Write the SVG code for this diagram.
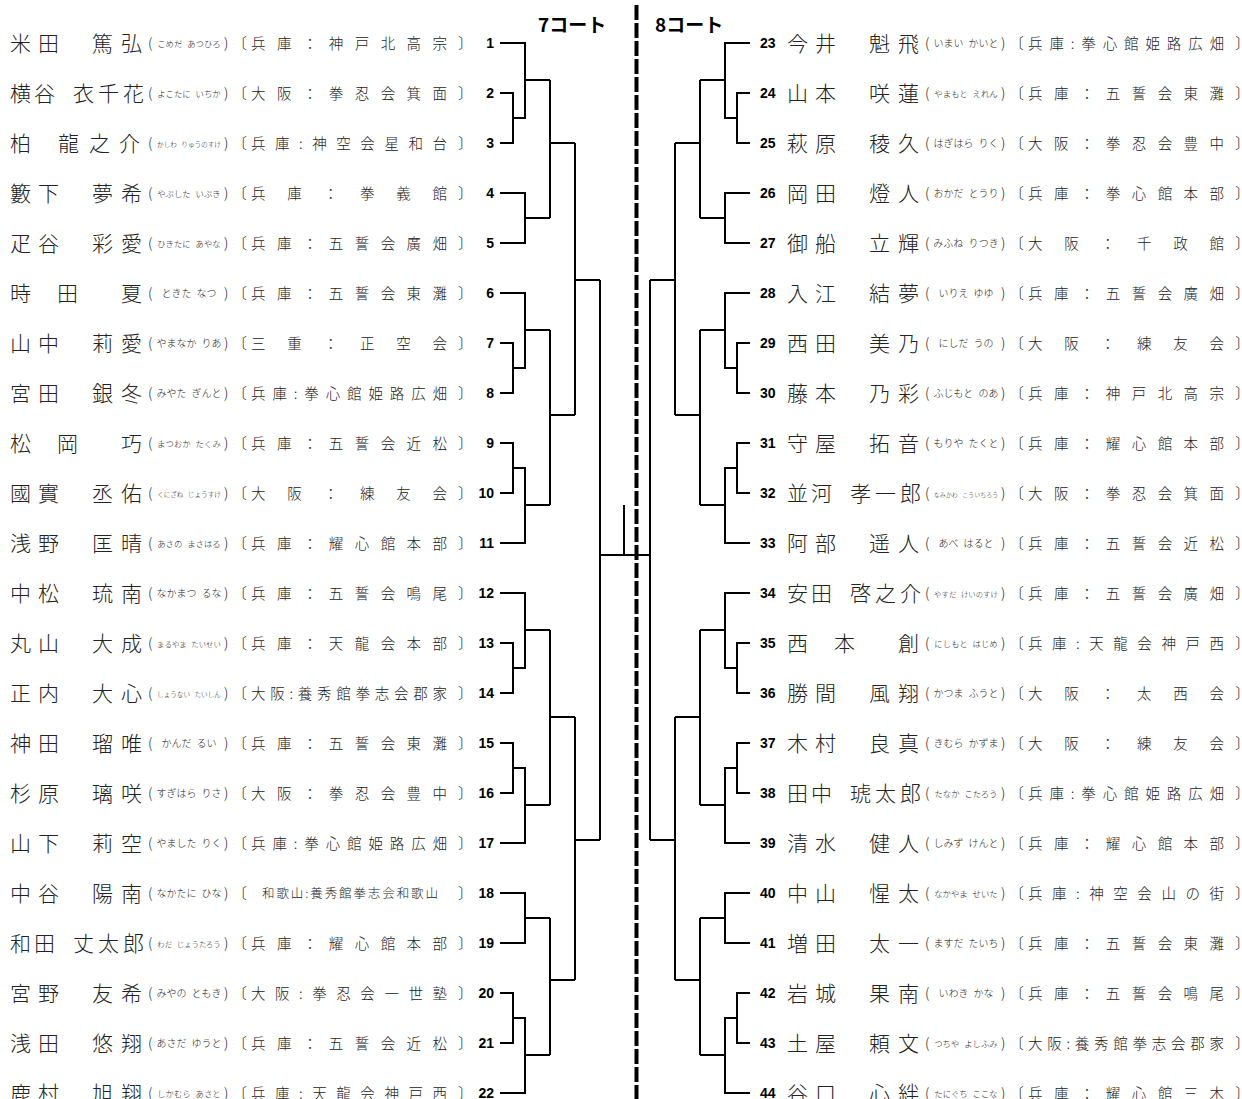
<svg xmlns="http://www.w3.org/2000/svg" width="1242" height="1099" viewBox="0 0 1242 1099">
<style>
text{font-family:"Noto Sans CJK JP","Noto Sans CJK SC",sans-serif;fill:#222}
.nm{font-size:21px;font-weight:300}
.fu{font-size:9px;text-anchor:middle;font-weight:300;word-spacing:3px}
.f10{font-size:10px}.f86{font-size:8.4px}.f76{font-size:7.4px}.f68{font-size:6.6px}.f62{font-size:6px}
.pr{font-size:14px;font-weight:300}
.br{font-size:15px;font-weight:300}
.cl{font-size:14.5px;font-weight:300}
.cl2{font-size:12.5px;font-weight:300}
.no{font-family:"Liberation Sans",Arial,sans-serif;font-weight:bold;font-size:14px;fill:#000}
.nl{text-anchor:end}
.ttl{font-weight:bold;font-size:19px;fill:#000}
.ln{fill:none;stroke:#000;stroke-width:2}
.cut{fill:none;stroke:#000;stroke-width:4;stroke-dasharray:15 3}
</style>
<defs>
<path id="half" class="ln" d="M500 43H525V118H513M500 93H513V143H500M525 80H550M500 193H525V243H500M525 218H550M550 80V218M550 143H575M500 293H525V368H513M500 343H513V393H500M525 330H550M500 443H513V493H500M513 468H525V543H500M525 505H550M550 330V505M550 415H575M575 143V415M575 280H600M500 593H525V668H513M500 643H513V693H500M525 630H550M500 743H513V793H500M513 768H525V843H500M525 805H550M550 630V805M550 717H575M500 893H525V943H500M525 918H550M500 993H513V1043H500M513 1018H525V1093H500M525 1055H550M550 918V1055M550 980H575M575 717V980M575 840H600M600 280V840"/>
</defs>
<g id="connectors">
<use href="#half"/>
<use href="#half" transform="matrix(-1 0 0 1 1250 0)"/>
<path class="ln" d="M600 555H650M624 505V555"/>
<path class="cut" d="M636.5 5V1099"/>
</g>
<g id="titles">
<text class="ttl" x="538" y="32">7コート</text>
<text class="ttl" x="655" y="32">8コート</text>
</g>
<g id="p1" transform="translate(0,43)"><text class="no nl" x="494" y="5">1</text><text class="nm" x="10 38 92 121" y="8">米田篤弘</text><text class="pr" x="148" y="5">(</text><text class="fu f86" x="189" y="4">こめだ あつひろ</text><text class="pr" x="224" y="5">)</text><text class="br" x="232" y="6">〔</text><text class="cl" x="251" y="6" textLength="196">兵庫：神戸北高宗</text><text class="br" x="458" y="6">〕</text></g>
<g id="p2" transform="translate(0,93)"><text class="no nl" x="494" y="5">2</text><text class="nm" x="10 34 73 98 123" y="8">横谷衣千花</text><text class="pr" x="148" y="5">(</text><text class="fu f86" x="189" y="4">よこたに いちか</text><text class="pr" x="224" y="5">)</text><text class="br" x="232" y="6">〔</text><text class="cl" x="251" y="6" textLength="196">大阪：拳忍会箕面</text><text class="br" x="458" y="6">〕</text></g>
<g id="p3" transform="translate(0,143)"><text class="no nl" x="494" y="5">3</text><text class="nm" x="10 58 89 119" y="8">柏龍之介</text><text class="pr" x="148" y="5">(</text><text class="fu f68" x="189" y="4">かしわ りゅうのすけ</text><text class="pr" x="224" y="5">)</text><text class="br" x="232" y="6">〔</text><text class="cl" x="251" y="6" textLength="196">兵庫:神空会星和台</text><text class="br" x="458" y="6">〕</text></g>
<g id="p4" transform="translate(0,193)"><text class="no nl" x="494" y="5">4</text><text class="nm" x="10 38 92 121" y="8">籔下夢希</text><text class="pr" x="148" y="5">(</text><text class="fu f86" x="189" y="4">やぶした いぶき</text><text class="pr" x="224" y="5">)</text><text class="br" x="232" y="6">〔</text><text class="cl" x="251" y="6" textLength="196">兵庫：拳義館</text><text class="br" x="458" y="6">〕</text></g>
<g id="p5" transform="translate(0,243)"><text class="no nl" x="494" y="5">5</text><text class="nm" x="10 38 92 121" y="8">疋谷彩愛</text><text class="pr" x="148" y="5">(</text><text class="fu f86" x="189" y="4">ひきたに あやな</text><text class="pr" x="224" y="5">)</text><text class="br" x="232" y="6">〔</text><text class="cl" x="251" y="6" textLength="196">兵庫：五誓会廣畑</text><text class="br" x="458" y="6">〕</text></g>
<g id="p6" transform="translate(0,293)"><text class="no nl" x="494" y="5">6</text><text class="nm" x="10 57 121" y="8">時田夏</text><text class="pr" x="148" y="5">(</text><text class="fu f10" x="189" y="4">ときた なつ</text><text class="pr" x="224" y="5">)</text><text class="br" x="232" y="6">〔</text><text class="cl" x="251" y="6" textLength="196">兵庫：五誓会東灘</text><text class="br" x="458" y="6">〕</text></g>
<g id="p7" transform="translate(0,343)"><text class="no nl" x="494" y="5">7</text><text class="nm" x="10 38 92 121" y="8">山中莉愛</text><text class="pr" x="148" y="5">(</text><text class="fu f10" x="189" y="4">やまなか りあ</text><text class="pr" x="224" y="5">)</text><text class="br" x="232" y="6">〔</text><text class="cl" x="251" y="6" textLength="196">三重：正空会</text><text class="br" x="458" y="6">〕</text></g>
<g id="p8" transform="translate(0,393)"><text class="no nl" x="494" y="5">8</text><text class="nm" x="10 38 92 121" y="8">宮田銀冬</text><text class="pr" x="148" y="5">(</text><text class="fu f10" x="189" y="4">みやた ぎんと</text><text class="pr" x="224" y="5">)</text><text class="br" x="232" y="6">〔</text><text class="cl" x="251" y="6" textLength="196">兵庫:拳心館姫路広畑</text><text class="br" x="458" y="6">〕</text></g>
<g id="p9" transform="translate(0,443)"><text class="no nl" x="494" y="5">9</text><text class="nm" x="10 57 121" y="8">松岡巧</text><text class="pr" x="148" y="5">(</text><text class="fu f86" x="189" y="4">まつおか たくみ</text><text class="pr" x="224" y="5">)</text><text class="br" x="232" y="6">〔</text><text class="cl" x="251" y="6" textLength="196">兵庫：五誓会近松</text><text class="br" x="458" y="6">〕</text></g>
<g id="p10" transform="translate(0,493)"><text class="no nl" x="494" y="5">10</text><text class="nm" x="10 38 92 121" y="8">國實丞佑</text><text class="pr" x="148" y="5">(</text><text class="fu f68" x="189" y="4">くにざね じょうすけ</text><text class="pr" x="224" y="5">)</text><text class="br" x="232" y="6">〔</text><text class="cl" x="251" y="6" textLength="196">大阪：練友会</text><text class="br" x="458" y="6">〕</text></g>
<g id="p11" transform="translate(0,543)"><text class="no nl" x="494" y="5">11</text><text class="nm" x="10 38 92 121" y="8">浅野匡晴</text><text class="pr" x="148" y="5">(</text><text class="fu f86" x="189" y="4">あさの まさはる</text><text class="pr" x="224" y="5">)</text><text class="br" x="232" y="6">〔</text><text class="cl" x="251" y="6" textLength="196">兵庫：耀心館本部</text><text class="br" x="458" y="6">〕</text></g>
<g id="p12" transform="translate(0,593)"><text class="no nl" x="494" y="5">12</text><text class="nm" x="10 38 92 121" y="8">中松琉南</text><text class="pr" x="148" y="5">(</text><text class="fu f10" x="189" y="4">なかまつ るな</text><text class="pr" x="224" y="5">)</text><text class="br" x="232" y="6">〔</text><text class="cl" x="251" y="6" textLength="196">兵庫：五誓会鳴尾</text><text class="br" x="458" y="6">〕</text></g>
<g id="p13" transform="translate(0,643)"><text class="no nl" x="494" y="5">13</text><text class="nm" x="10 38 92 121" y="8">丸山大成</text><text class="pr" x="148" y="5">(</text><text class="fu f76" x="189" y="4">まるやま たいせい</text><text class="pr" x="224" y="5">)</text><text class="br" x="232" y="6">〔</text><text class="cl" x="251" y="6" textLength="196">兵庫：天龍会本部</text><text class="br" x="458" y="6">〕</text></g>
<g id="p14" transform="translate(0,693)"><text class="no nl" x="494" y="5">14</text><text class="nm" x="10 38 92 121" y="8">正内大心</text><text class="pr" x="148" y="5">(</text><text class="fu f68" x="189" y="4">しょうない たいしん</text><text class="pr" x="224" y="5">)</text><text class="br" x="232" y="6">〔</text><text class="cl" x="251" y="6" textLength="196">大阪:養秀館拳志会郡家</text><text class="br" x="458" y="6">〕</text></g>
<g id="p15" transform="translate(0,743)"><text class="no nl" x="494" y="5">15</text><text class="nm" x="10 38 92 121" y="8">神田瑠唯</text><text class="pr" x="148" y="5">(</text><text class="fu f10" x="189" y="4">かんだ るい</text><text class="pr" x="224" y="5">)</text><text class="br" x="232" y="6">〔</text><text class="cl" x="251" y="6" textLength="196">兵庫：五誓会東灘</text><text class="br" x="458" y="6">〕</text></g>
<g id="p16" transform="translate(0,793)"><text class="no nl" x="494" y="5">16</text><text class="nm" x="10 38 92 121" y="8">杉原璃咲</text><text class="pr" x="148" y="5">(</text><text class="fu f10" x="189" y="4">すぎはら りさ</text><text class="pr" x="224" y="5">)</text><text class="br" x="232" y="6">〔</text><text class="cl" x="251" y="6" textLength="196">大阪：拳忍会豊中</text><text class="br" x="458" y="6">〕</text></g>
<g id="p17" transform="translate(0,843)"><text class="no nl" x="494" y="5">17</text><text class="nm" x="10 38 92 121" y="8">山下莉空</text><text class="pr" x="148" y="5">(</text><text class="fu f10" x="189" y="4">やました りく</text><text class="pr" x="224" y="5">)</text><text class="br" x="232" y="6">〔</text><text class="cl" x="251" y="6" textLength="196">兵庫:拳心館姫路広畑</text><text class="br" x="458" y="6">〕</text></g>
<g id="p18" transform="translate(0,893)"><text class="no nl" x="494" y="5">18</text><text class="nm" x="10 38 92 121" y="8">中谷陽南</text><text class="pr" x="148" y="5">(</text><text class="fu f10" x="189" y="4">なかたに ひな</text><text class="pr" x="224" y="5">)</text><text class="br" x="232" y="6">〔</text><text class="cl2" x="262" y="5" textLength="176">和歌山:養秀館拳志会和歌山</text><text class="br" x="458" y="6">〕</text></g>
<g id="p19" transform="translate(0,943)"><text class="no nl" x="494" y="5">19</text><text class="nm" x="10 34 73 98 123" y="8">和田丈太郎</text><text class="pr" x="148" y="5">(</text><text class="fu f76" x="189" y="4">わだ じょうたろう</text><text class="pr" x="224" y="5">)</text><text class="br" x="232" y="6">〔</text><text class="cl" x="251" y="6" textLength="196">兵庫：耀心館本部</text><text class="br" x="458" y="6">〕</text></g>
<g id="p20" transform="translate(0,993)"><text class="no nl" x="494" y="5">20</text><text class="nm" x="10 38 92 121" y="8">宮野友希</text><text class="pr" x="148" y="5">(</text><text class="fu f10" x="189" y="4">みやの ともき</text><text class="pr" x="224" y="5">)</text><text class="br" x="232" y="6">〔</text><text class="cl" x="251" y="6" textLength="196">大阪:拳忍会一世塾</text><text class="br" x="458" y="6">〕</text></g>
<g id="p21" transform="translate(0,1043)"><text class="no nl" x="494" y="5">21</text><text class="nm" x="10 38 92 121" y="8">浅田悠翔</text><text class="pr" x="148" y="5">(</text><text class="fu f10" x="189" y="4">あさだ ゆうと</text><text class="pr" x="224" y="5">)</text><text class="br" x="232" y="6">〔</text><text class="cl" x="251" y="6" textLength="196">兵庫：五誓会近松</text><text class="br" x="458" y="6">〕</text></g>
<g id="p22" transform="translate(0,1093)"><text class="no nl" x="494" y="5">22</text><text class="nm" x="10 38 92 121" y="8">鹿村旭翔</text><text class="pr" x="148" y="5">(</text><text class="fu f86" x="189" y="4">しかむら あさと</text><text class="pr" x="224" y="5">)</text><text class="br" x="232" y="6">〔</text><text class="cl" x="251" y="6" textLength="196">兵庫:天龍会神戸西</text><text class="br" x="458" y="6">〕</text></g>
<g id="p23" transform="translate(777,43)"><text class="no" x="-17" y="5">23</text><text class="nm" x="10 38 92 121" y="8">今井魁飛</text><text class="pr" x="148" y="5">(</text><text class="fu f10" x="189" y="4">いまい かいと</text><text class="pr" x="224" y="5">)</text><text class="br" x="232" y="6">〔</text><text class="cl" x="251" y="6" textLength="196">兵庫:拳心館姫路広畑</text><text class="br" x="458" y="6">〕</text></g>
<g id="p24" transform="translate(777,93)"><text class="no" x="-17" y="5">24</text><text class="nm" x="10 38 92 121" y="8">山本咲蓮</text><text class="pr" x="148" y="5">(</text><text class="fu f86" x="189" y="4">やまもと えれん</text><text class="pr" x="224" y="5">)</text><text class="br" x="232" y="6">〔</text><text class="cl" x="251" y="6" textLength="196">兵庫：五誓会東灘</text><text class="br" x="458" y="6">〕</text></g>
<g id="p25" transform="translate(777,143)"><text class="no" x="-17" y="5">25</text><text class="nm" x="10 38 92 121" y="8">萩原稜久</text><text class="pr" x="148" y="5">(</text><text class="fu f10" x="189" y="4">はぎはら りく</text><text class="pr" x="224" y="5">)</text><text class="br" x="232" y="6">〔</text><text class="cl" x="251" y="6" textLength="196">大阪：拳忍会豊中</text><text class="br" x="458" y="6">〕</text></g>
<g id="p26" transform="translate(777,193)"><text class="no" x="-17" y="5">26</text><text class="nm" x="10 38 92 121" y="8">岡田燈人</text><text class="pr" x="148" y="5">(</text><text class="fu f10" x="189" y="4">おかだ とうり</text><text class="pr" x="224" y="5">)</text><text class="br" x="232" y="6">〔</text><text class="cl" x="251" y="6" textLength="196">兵庫：拳心館本部</text><text class="br" x="458" y="6">〕</text></g>
<g id="p27" transform="translate(777,243)"><text class="no" x="-17" y="5">27</text><text class="nm" x="10 38 92 121" y="8">御船立輝</text><text class="pr" x="148" y="5">(</text><text class="fu f10" x="189" y="4">みふね りつき</text><text class="pr" x="224" y="5">)</text><text class="br" x="232" y="6">〔</text><text class="cl" x="251" y="6" textLength="196">大阪：千政館</text><text class="br" x="458" y="6">〕</text></g>
<g id="p28" transform="translate(777,293)"><text class="no" x="-17" y="5">28</text><text class="nm" x="10 38 92 121" y="8">入江結夢</text><text class="pr" x="148" y="5">(</text><text class="fu f10" x="189" y="4">いりえ ゆゆ</text><text class="pr" x="224" y="5">)</text><text class="br" x="232" y="6">〔</text><text class="cl" x="251" y="6" textLength="196">兵庫：五誓会廣畑</text><text class="br" x="458" y="6">〕</text></g>
<g id="p29" transform="translate(777,343)"><text class="no" x="-17" y="5">29</text><text class="nm" x="10 38 92 121" y="8">西田美乃</text><text class="pr" x="148" y="5">(</text><text class="fu f10" x="189" y="4">にしだ うの</text><text class="pr" x="224" y="5">)</text><text class="br" x="232" y="6">〔</text><text class="cl" x="251" y="6" textLength="196">大阪：練友会</text><text class="br" x="458" y="6">〕</text></g>
<g id="p30" transform="translate(777,393)"><text class="no" x="-17" y="5">30</text><text class="nm" x="10 38 92 121" y="8">藤本乃彩</text><text class="pr" x="148" y="5">(</text><text class="fu f10" x="189" y="4">ふじもと のあ</text><text class="pr" x="224" y="5">)</text><text class="br" x="232" y="6">〔</text><text class="cl" x="251" y="6" textLength="196">兵庫：神戸北高宗</text><text class="br" x="458" y="6">〕</text></g>
<g id="p31" transform="translate(777,443)"><text class="no" x="-17" y="5">31</text><text class="nm" x="10 38 92 121" y="8">守屋拓音</text><text class="pr" x="148" y="5">(</text><text class="fu f10" x="189" y="4">もりや たくと</text><text class="pr" x="224" y="5">)</text><text class="br" x="232" y="6">〔</text><text class="cl" x="251" y="6" textLength="196">兵庫：耀心館本部</text><text class="br" x="458" y="6">〕</text></g>
<g id="p32" transform="translate(777,493)"><text class="no" x="-17" y="5">32</text><text class="nm" x="10 34 73 98 123" y="8">並河孝一郎</text><text class="pr" x="148" y="5">(</text><text class="fu f62" x="189" y="4">なみかわ こういちろう</text><text class="pr" x="224" y="5">)</text><text class="br" x="232" y="6">〔</text><text class="cl" x="251" y="6" textLength="196">大阪：拳忍会箕面</text><text class="br" x="458" y="6">〕</text></g>
<g id="p33" transform="translate(777,543)"><text class="no" x="-17" y="5">33</text><text class="nm" x="10 38 92 121" y="8">阿部遥人</text><text class="pr" x="148" y="5">(</text><text class="fu f10" x="189" y="4">あべ はると</text><text class="pr" x="224" y="5">)</text><text class="br" x="232" y="6">〔</text><text class="cl" x="251" y="6" textLength="196">兵庫：五誓会近松</text><text class="br" x="458" y="6">〕</text></g>
<g id="p34" transform="translate(777,593)"><text class="no" x="-17" y="5">34</text><text class="nm" x="10 34 73 98 123" y="8">安田啓之介</text><text class="pr" x="148" y="5">(</text><text class="fu f76" x="189" y="4">やすだ けいのすけ</text><text class="pr" x="224" y="5">)</text><text class="br" x="232" y="6">〔</text><text class="cl" x="251" y="6" textLength="196">兵庫：五誓会廣畑</text><text class="br" x="458" y="6">〕</text></g>
<g id="p35" transform="translate(777,643)"><text class="no" x="-17" y="5">35</text><text class="nm" x="10 57 121" y="8">西本創</text><text class="pr" x="148" y="5">(</text><text class="fu f86" x="189" y="4">にしもと はじめ</text><text class="pr" x="224" y="5">)</text><text class="br" x="232" y="6">〔</text><text class="cl" x="251" y="6" textLength="196">兵庫:天龍会神戸西</text><text class="br" x="458" y="6">〕</text></g>
<g id="p36" transform="translate(777,693)"><text class="no" x="-17" y="5">36</text><text class="nm" x="10 38 92 121" y="8">勝間風翔</text><text class="pr" x="148" y="5">(</text><text class="fu f10" x="189" y="4">かつま ふうと</text><text class="pr" x="224" y="5">)</text><text class="br" x="232" y="6">〔</text><text class="cl" x="251" y="6" textLength="196">大阪：太西会</text><text class="br" x="458" y="6">〕</text></g>
<g id="p37" transform="translate(777,743)"><text class="no" x="-17" y="5">37</text><text class="nm" x="10 38 92 121" y="8">木村良真</text><text class="pr" x="148" y="5">(</text><text class="fu f10" x="189" y="4">きむら かずま</text><text class="pr" x="224" y="5">)</text><text class="br" x="232" y="6">〔</text><text class="cl" x="251" y="6" textLength="196">大阪：練友会</text><text class="br" x="458" y="6">〕</text></g>
<g id="p38" transform="translate(777,793)"><text class="no" x="-17" y="5">38</text><text class="nm" x="10 34 73 98 123" y="8">田中琥太郎</text><text class="pr" x="148" y="5">(</text><text class="fu f86" x="189" y="4">たなか こたろう</text><text class="pr" x="224" y="5">)</text><text class="br" x="232" y="6">〔</text><text class="cl" x="251" y="6" textLength="196">兵庫:拳心館姫路広畑</text><text class="br" x="458" y="6">〕</text></g>
<g id="p39" transform="translate(777,843)"><text class="no" x="-17" y="5">39</text><text class="nm" x="10 38 92 121" y="8">清水健人</text><text class="pr" x="148" y="5">(</text><text class="fu f10" x="189" y="4">しみず けんと</text><text class="pr" x="224" y="5">)</text><text class="br" x="232" y="6">〔</text><text class="cl" x="251" y="6" textLength="196">兵庫：耀心館本部</text><text class="br" x="458" y="6">〕</text></g>
<g id="p40" transform="translate(777,893)"><text class="no" x="-17" y="5">40</text><text class="nm" x="10 38 92 121" y="8">中山惺太</text><text class="pr" x="148" y="5">(</text><text class="fu f86" x="189" y="4">なかやま せいた</text><text class="pr" x="224" y="5">)</text><text class="br" x="232" y="6">〔</text><text class="cl" x="251" y="6" textLength="196">兵庫:神空会山の街</text><text class="br" x="458" y="6">〕</text></g>
<g id="p41" transform="translate(777,943)"><text class="no" x="-17" y="5">41</text><text class="nm" x="10 38 92 121" y="8">増田太一</text><text class="pr" x="148" y="5">(</text><text class="fu f10" x="189" y="4">ますだ たいち</text><text class="pr" x="224" y="5">)</text><text class="br" x="232" y="6">〔</text><text class="cl" x="251" y="6" textLength="196">兵庫：五誓会東灘</text><text class="br" x="458" y="6">〕</text></g>
<g id="p42" transform="translate(777,993)"><text class="no" x="-17" y="5">42</text><text class="nm" x="10 38 92 121" y="8">岩城果南</text><text class="pr" x="148" y="5">(</text><text class="fu f10" x="189" y="4">いわき かな</text><text class="pr" x="224" y="5">)</text><text class="br" x="232" y="6">〔</text><text class="cl" x="251" y="6" textLength="196">兵庫：五誓会鳴尾</text><text class="br" x="458" y="6">〕</text></g>
<g id="p43" transform="translate(777,1043)"><text class="no" x="-17" y="5">43</text><text class="nm" x="10 38 92 121" y="8">土屋頼文</text><text class="pr" x="148" y="5">(</text><text class="fu f86" x="189" y="4">つちや よしふみ</text><text class="pr" x="224" y="5">)</text><text class="br" x="232" y="6">〔</text><text class="cl" x="251" y="6" textLength="196">大阪:養秀館拳志会郡家</text><text class="br" x="458" y="6">〕</text></g>
<g id="p44" transform="translate(777,1093)"><text class="no" x="-17" y="5">44</text><text class="nm" x="10 38 92 121" y="8">谷口心絆</text><text class="pr" x="148" y="5">(</text><text class="fu f86" x="189" y="4">たにぐち ここな</text><text class="pr" x="224" y="5">)</text><text class="br" x="232" y="6">〔</text><text class="cl" x="251" y="6" textLength="196">兵庫：耀心館三木</text><text class="br" x="458" y="6">〕</text></g>
</svg>
